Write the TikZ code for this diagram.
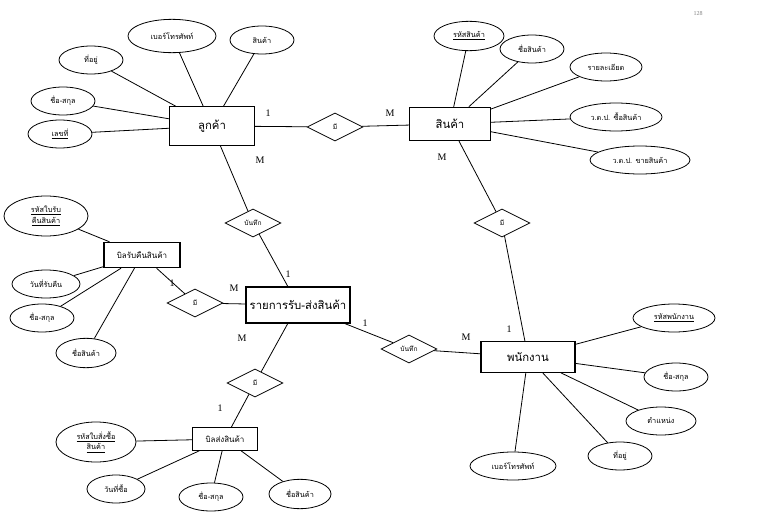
\documentclass[tikz,border=0pt]{standalone}
\usepackage{fontspec}
\setmainfont{Liberation Serif}
\newfontfamily\thf[Script=Thai]{Loma}
\usetikzlibrary{shapes.geometric}
\begin{document}
\begin{tikzpicture}[x=0.75pt,y=-0.75pt,
  ent/.style={draw,thick,rectangle,minimum width=#1*0.75pt,minimum height=32*0.75pt,inner sep=1pt,font=\thf\fontsize{8.5}{10}\selectfont},
  ent/.default=80,
  att/.style={draw,ellipse,minimum width=#1*0.75pt,minimum height=21pt,inner sep=0pt,font=\thf\fontsize{5.5}{7}\selectfont,align=center},
  att/.default=64,
  rel/.style={draw,diamond,aspect=2,minimum width=42pt,minimum height=21pt,inner sep=0pt,font=\thf\fontsize{5}{6}\selectfont},
  card/.style={font=\fontsize{7.5}{9}\selectfont},
  every path/.style={line width=0.6pt}]
\useasboundingbox (0,0) rectangle (761,514);
% entities
\node[ent=85,minimum height=29pt] (cust) at (212,126) {ลูกค้า};
\node[ent=81,minimum height=25pt] (prod) at (450,124) {สินค้า};
\node[ent=94,minimum height=23pt] (emp) at (528,357) {พนักงาน};
\node[ent=104,minimum height=27pt] (trx) at (298,305) {รายการรับ-ส่งสินค้า};
\node[ent=76,minimum height=19pt,font=\thf\fontsize{6}{7}\selectfont] (ret) at (142,255) {บิลรับคืนสินค้า};
\node[ent=65,minimum height=17pt,font=\thf\fontsize{6}{7}\selectfont] (ship) at (225,439) {บิลส่งสินค้า};
% relationships
\node[rel] (r1) at (335,127) {มี};
\node[rel] (r2) at (502,223) {มี};
\node[rel] (r3) at (253,223) {บันทึก};
\node[rel] (r4) at (409,349) {บันทึก};
\node[rel] (r5) at (195,303) {มี};
\node[rel] (r6) at (255,383) {มี};
% customer attributes
\node[att=88,minimum height=25pt] (c1) at (172,36) {เบอร์โทรศัพท์};
\node[att] (c2) at (262,40) {สินค้า};
\node[att] (c3) at (91,60) {ที่อยู่};
\node[att] (c4) at (63,101) {ชื่อ-สกุล};
\node[att] (c5) at (60,134) {\underline{เลขที่}};
\foreach \a in {c1,c2,c3,c4,c5} \draw (\a) -- (cust);
% product attributes
\node[att=70,minimum height=22pt] (p1) at (469,36) {\underline{รหัสสินค้า}};
\node[att] (p2) at (532,49) {ชื่อสินค้า};
\node[att=72] (p3) at (606,67) {รายละเอียด};
\node[att=92] (p4) at (616,117) {ว.ด.ป. ซื้อสินค้า};
\node[att=100] (p5) at (640,160) {ว.ด.ป. ขายสินค้า};
\foreach \a in {p1,p2,p3,p4,p5} \draw (\a) -- (prod);
% employee attributes
\node[att=82] (e1) at (674,318) {\underline{รหัสพนักงาน}};
\node[att] (e2) at (676,377) {ชื่อ-สกุล};
\node[att=70] (e3) at (661,421) {ตำแหน่ง};
\node[att] (e4) at (620,456) {ที่อยู่};
\node[att=86] (e5) at (513,466) {เบอร์โทรศัพท์};
\foreach \a in {e1,e2,e3,e4,e5} \draw (\a) -- (emp);
% return bill attributes
\node[att=84,minimum height=30pt] (b1) at (46,216) {\underline{รหัสใบรับ}\\[1pt]\underline{คืนสินค้า}};
\node[att=68] (b2) at (46,284) {วันที่รับคืน};
\node[att] (b3) at (42,318) {ชื่อ-สกุล};
\node[att=60,minimum height=22pt] (b4) at (86,353) {ชื่อสินค้า};
\foreach \a in {b1,b2,b3,b4} \draw (\a) -- (ret);
% ship bill attributes
\node[att=80,minimum height=30pt] (s1) at (96,442) {\underline{รหัสใบสั่งซื้อ}\\[1pt]\underline{สินค้า}};
\node[att=58] (s2) at (116,489) {วันที่ซื้อ};
\node[att] (s3) at (211,497) {ชื่อ-สกุล};
\node[att=62,minimum height=22pt] (s4) at (300,494) {ชื่อสินค้า};
\foreach \a in {s1,s2,s3,s4} \draw (\a) -- (ship);
% relationship connectors
\draw (cust) -- (r1) -- (prod);
\draw (prod) -- (r2) -- (emp);
\draw (cust) -- (r3) -- (trx);
\draw (trx) -- (r4) -- (emp);
\draw (ret) -- (r5) -- (trx);
\draw (trx) -- (r6) -- (ship);
% cardinalities
\node[card] at (268,113) {1};
\node[card] at (390,113) {M};
\node[card] at (260,160) {M};
\node[card] at (288,274) {1};
\node[card] at (442,157) {M};
\node[card] at (509,329) {1};
\node[card] at (172,283) {1};
\node[card] at (234,288) {M};
\node[card] at (242,338) {M};
\node[card] at (365,323) {1};
\node[card] at (466,337) {M};
\node[card] at (220,408) {1};
\node[font=\fontsize{4.5}{5}\selectfont,text=gray] at (698,14) {128};
\end{tikzpicture}
\end{document}
